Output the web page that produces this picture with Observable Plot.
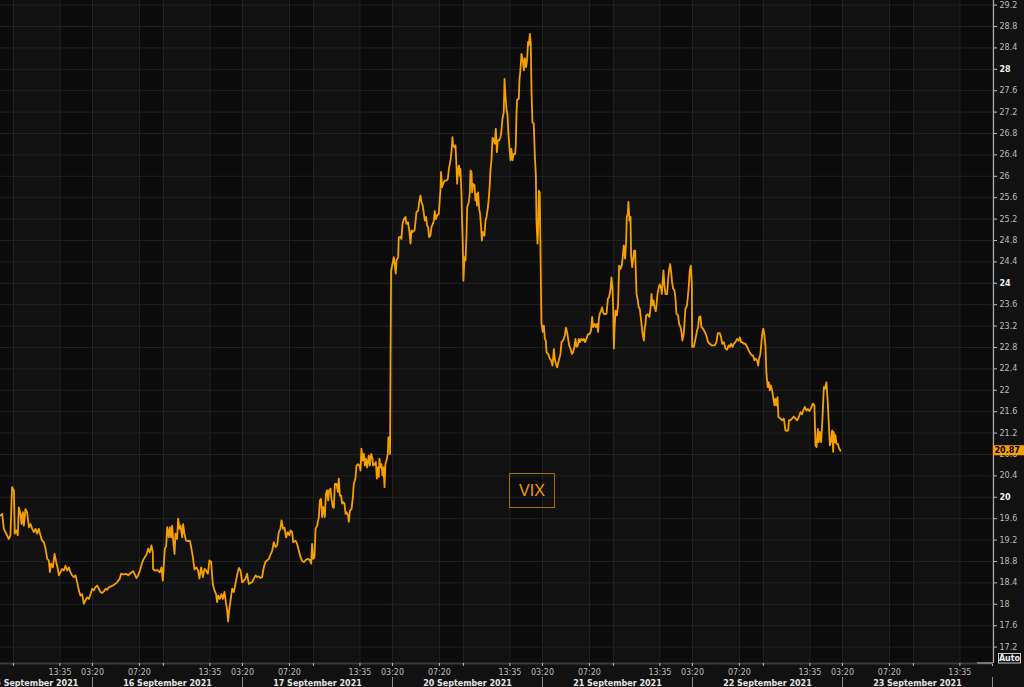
<!DOCTYPE html>
<html><head><meta charset="utf-8">
<script src="https://cdn.jsdelivr.net/npm/d3@7"></script>
<script src="https://cdn.jsdelivr.net/npm/@observablehq/plot@0.6"></script>
<style>
html,body{margin:0;padding:0;background:#101010;}
#wrap{position:relative;width:1024px;height:687px;overflow:hidden;}
#vixlabel{position:absolute;left:509px;top:473px;width:46px;height:35px;border:1px solid #a86f00;color:#f09a00;font:16px "Liberation Sans",Arial,sans-serif;display:flex;align-items:center;justify-content:center;box-sizing:border-box;}
</style></head><body><div id="wrap"><div id="vixlabel">VIX</div></div>
<script>
// Trading-session axis: 1 unit = one session day, starting 03:20 of 15 Sep 2021
const dayNames = ["15 September 2021","16 September 2021","17 September 2021","20 September 2021","21 September 2021","22 September 2021","23 September 2021"];
const dayLabelPos = [0.61, 1.5, 2.5, 3.5, 4.5, 5.5, 6.5];
const sessionTicks = [0, 0.313, 0.473, 0.783];          // fraction of a session day
const sessionTickLabels = ["03:20", "07:20", "", "13:35"];
const yTicks = [17.2,17.6,18,18.4,18.8,19.2,19.6,20,20.4,20.8,21.2,21.6,22,22.4,22.8,23.2,23.6,24,24.4,24.8,25.2,25.6,26,26.4,26.8,27.2,27.6,28,28.4,28.8,29.2];
const boldTicks = [20, 24, 28];
const lastValue = 20.87;

const vixPoints = [
[.387,19.66],[.398,19.69],[.409,19.41],[.442,19.22],[.453,19.29],[.464,20.19],[.476,20.13],[.482,19.32],[.493,19.38],[.502,19.29],[.509,19.81],[.520,19.69],[.527,19.50],[.536,19.72],[.542,19.47],[.553,19.78],[.564,19.72],[.576,19.44],[.587,19.50],[.598,19.41],[.609,19.35],[.620,19.41],[.631,19.32],[.642,19.41],[.653,19.29],[.664,19.19],[.676,19.16],[.687,19.04],[.698,18.85],[.709,18.82],[.716,18.60],[.724,18.76],[.736,18.69],[.747,18.94],[.758,18.79],[.769,18.66],[.776,18.54],[.787,18.60],[.798,18.66],[.809,18.63],[.820,18.72],[.831,18.63],[.842,18.69],[.853,18.60],[.864,18.54],[.876,18.51],[.887,18.54],[.898,18.41],[.909,18.26],[.920,18.16],[.931,18.19],[.942,18.01],[.953,18.07],[.964,18.13],[.976,18.10],[.987,18.19],[.998,18.29],
[1.009,18.26],[1.020,18.32],[1.031,18.35],[1.042,18.29],[1.053,18.23],[1.064,18.21],[1.076,18.24],[1.087,18.29],[1.098,18.27],[1.109,18.32],[1.120,18.33],[1.142,18.36],[1.164,18.41],[1.182,18.48],[1.191,18.57],[1.209,18.56],[1.227,18.57],[1.238,18.54],[1.253,18.58],[1.271,18.62],[1.282,18.56],[1.293,18.49],[1.304,18.54],[1.316,18.63],[1.327,18.74],[1.338,18.83],[1.349,18.88],[1.360,18.93],[1.371,19.04],[1.382,18.97],[1.393,19.10],[1.402,18.97],[1.404,18.66],[1.416,18.63],[1.431,18.64],[1.449,18.60],[1.460,18.69],[1.469,18.44],[1.476,18.76],[1.482,19.04],[1.491,19.08],[1.498,19.44],[1.509,19.25],[1.516,19.44],[1.524,19.25],[1.531,19.47],[1.538,19.19],[1.547,18.94],[1.553,19.32],[1.564,19.22],[1.571,19.60],[1.580,19.41],[1.587,19.47],[1.598,19.25],[1.604,19.50],[1.613,19.32],[1.624,19.19],[1.636,19.18],[1.649,19.19],[1.658,19.07],[1.669,18.88],[1.680,18.65],[1.693,18.69],[1.704,18.63],[1.713,18.48],[1.724,18.69],[1.736,18.51],[1.747,18.66],[1.758,18.63],[1.769,18.57],[1.780,18.82],[1.791,18.79],[1.802,18.38],[1.813,18.26],[1.824,18.19],[1.831,18.04],[1.838,18.16],[1.849,18.10],[1.860,18.19],[1.869,18.10],[1.880,18.23],[1.889,18.04],[1.898,17.88],[1.904,17.68],[1.911,17.88],[1.920,18.07],[1.931,18.29],[1.942,18.23],[1.953,18.38],[1.964,18.54],[1.976,18.68],[1.987,18.63],[1.998,18.41],
[2.009,18.44],[2.020,18.48],[2.031,18.57],[2.042,18.38],[2.053,18.40],[2.064,18.41],[2.076,18.48],[2.087,18.54],[2.098,18.51],[2.109,18.52],[2.120,18.49],[2.131,18.51],[2.142,18.69],[2.153,18.79],[2.164,18.82],[2.176,18.85],[2.187,18.93],[2.198,19.00],[2.209,19.16],[2.220,19.07],[2.231,19.10],[2.242,19.35],[2.253,19.41],[2.260,19.57],[2.271,19.41],[2.280,19.43],[2.291,19.25],[2.302,19.35],[2.313,19.29],[2.320,19.38],[2.331,19.35],[2.338,19.16],[2.353,19.19],[2.364,19.13],[2.376,19.00],[2.387,18.88],
[2.398,18.81],[2.409,18.79],[2.420,18.82],[2.431,18.85],[2.449,18.83],[2.458,18.76],[2.464,19.13],[2.471,18.85],[2.480,18.88],[2.487,19.41],[2.498,19.47],[2.509,19.63],[2.516,19.94],[2.524,19.97],[2.531,19.63],[2.538,19.82],[2.549,19.63],[2.556,20.06],[2.564,20.13],[2.571,19.94],[2.578,20.13],[2.587,20.16],[2.593,19.97],[2.602,19.82],[2.609,19.80],[2.616,20.25],[2.627,20.25],[2.636,20.10],[2.642,20.35],[2.649,20.03],[2.658,20.03],[2.664,19.88],[2.671,19.91],[2.680,19.88],[2.687,19.69],[2.693,19.72],[2.704,19.66],[2.709,19.54],[2.716,19.75],[2.727,19.78],[2.736,20.00],[2.742,20.25],[2.753,20.35],[2.760,20.59],[2.771,20.62],[2.780,20.59],[2.787,20.50],[2.793,20.91],[2.802,20.69],[2.809,20.81],[2.816,20.59],[2.824,20.72],[2.831,20.56],[2.842,20.78],[2.849,20.59],[2.858,20.81],[2.867,20.72],[2.871,20.59],[2.880,20.62],[2.889,20.66],[2.896,20.35],[2.902,20.56],[2.909,20.38],[2.913,20.72],[2.920,20.56],[2.927,20.62],[2.933,20.41],[2.940,20.56],[2.947,20.19],[2.953,20.62],[2.960,20.69],[2.969,20.81],[2.973,21.12],[2.982,21.12],[2.984,20.81],[2.987,22.53],[2.991,24.24],
[3.000,24.36],[3.009,24.49],[3.016,24.33],[3.022,24.18],[3.027,24.43],[3.038,24.49],[3.042,24.86],[3.053,24.87],[3.060,24.83],[3.067,25.11],[3.076,25.20],[3.087,25.24],[3.093,25.11],[3.104,25.14],[3.113,24.96],[3.120,24.74],[3.127,24.99],[3.136,24.96],[3.147,24.99],[3.153,25.14],[3.160,25.33],[3.171,25.36],[3.178,25.52],[3.187,25.64],[3.193,25.52],[3.202,25.45],[3.209,25.30],[3.216,25.17],[3.224,25.24],[3.231,25.08],[3.238,25.05],[3.244,24.86],[3.253,24.89],[3.260,25.05],[3.269,25.11],[3.276,25.17],[3.282,25.35],[3.289,25.20],[3.298,25.27],[3.309,25.30],[3.316,25.61],[3.320,25.73],[3.324,26.08],[3.331,25.80],[3.338,25.86],[3.347,25.92],[3.360,25.92],[3.369,25.95],[3.376,26.14],[3.387,26.30],[3.393,26.45],[3.400,26.73],[3.404,26.58],[3.413,26.54],[3.420,26.58],[3.427,26.17],[3.431,25.86],[3.438,26.14],[3.444,26.20],[3.449,26.01],[3.453,26.14],[3.460,25.67],[3.464,25.17],[3.469,24.68],[3.473,24.05],[3.480,24.49],[3.487,24.43],[3.493,24.86],[3.498,25.42],[3.509,25.52],[3.516,25.70],[3.520,26.11],[3.527,26.08],[3.531,25.70],[3.538,25.86],[3.547,25.83],[3.553,25.55],[3.560,25.67],[3.564,25.45],[3.571,25.70],[3.578,25.39],[3.584,25.30],[3.591,25.05],[3.596,24.80],[3.602,24.96],[3.613,24.89],[3.620,25.17],[3.627,25.24],[3.636,25.42],[3.642,25.58],[3.649,25.86],[3.653,26.11],[3.660,26.30],[3.667,26.72],[3.676,26.67],[3.682,26.61],[3.689,26.89],[3.696,26.45],[3.702,26.67],[3.711,26.67],[3.720,26.73],[3.727,26.86],[3.733,27.07],[3.742,27.20],[3.747,27.82],[3.753,27.51],[3.760,27.26],[3.767,27.14],[3.773,26.79],[3.780,26.54],[3.787,26.30],[3.793,26.51],[3.800,26.30],[3.809,26.42],[3.818,26.42],[3.822,26.58],[3.827,27.20],[3.831,27.43],[3.842,27.45],[3.847,27.82],[3.853,27.98],[3.860,28.29],[3.869,28.16],[3.876,27.98],[3.882,28.21],[3.891,28.04],[3.898,28.20],[3.904,28.51],[3.909,28.45],[3.916,28.66],[3.922,28.48],[3.927,27.57],[3.933,27.01],[3.942,26.98],[3.949,26.39],[3.956,26.01],[3.960,25.17],[3.967,24.74],[3.971,24.99],[3.976,25.73],[3.982,25.70],[3.987,24.55],[3.993,23.27],
[4.002,23.09],[4.009,23.21],[4.016,22.96],[4.022,22.93],[4.027,22.71],[4.038,22.68],[4.049,22.59],[4.058,22.56],[4.067,22.46],[4.076,22.77],[4.082,22.59],[4.089,22.50],[4.098,22.43],[4.109,22.56],[4.120,22.68],[4.127,22.90],[4.136,22.93],[4.142,22.96],[4.149,23.02],[4.156,23.17],[4.164,23.09],[4.171,22.96],[4.178,22.84],[4.187,22.78],[4.196,22.68],[4.204,22.71],[4.213,22.81],[4.220,22.96],[4.227,22.81],[4.236,22.84],[4.242,22.96],[4.249,22.90],[4.258,22.96],[4.267,22.93],[4.276,22.96],[4.284,22.90],[4.293,22.96],[4.302,23.04],[4.316,23.06],[4.324,23.12],[4.331,23.37],[4.338,23.18],[4.347,23.24],[4.356,23.18],[4.364,23.24],[4.371,23.09],[4.376,23.34],[4.382,23.43],[4.391,23.49],[4.398,23.55],[4.404,23.46],[4.413,23.42],[4.427,23.43],[4.436,23.71],[4.444,23.74],[4.453,23.87],[4.460,24.11],[4.467,23.90],[4.471,23.59],[4.476,22.78],[4.480,23.12],[4.487,23.49],[4.496,23.40],[4.504,23.59],[4.511,24.33],[4.520,24.27],[4.529,24.33],[4.536,24.52],[4.542,24.71],[4.551,24.46],[4.558,24.80],[4.562,25.24],[4.569,25.30],[4.573,25.52],[4.580,25.17],[4.587,25.24],[4.591,24.52],[4.598,24.30],[4.604,24.43],[4.611,24.61],[4.618,24.61],[4.622,24.24],[4.627,23.80],[4.636,23.68],[4.642,23.55],[4.649,23.52],[4.658,23.30],[4.667,23.06],[4.676,22.93],[4.682,23.18],[4.687,23.24],[4.691,23.40],[4.702,23.42],[4.713,23.37],[4.720,23.52],[4.727,23.80],[4.733,23.59],[4.740,23.68],[4.747,23.55],[4.756,23.48],[4.760,23.59],[4.767,23.80],[4.776,23.93],[4.782,23.98],[4.791,23.90],[4.796,23.80],[4.802,24.08],[4.807,24.24],[4.813,23.96],[4.820,23.80],[4.831,23.80],[4.838,24.08],[4.844,24.24],[4.851,24.36],[4.858,24.21],[4.864,24.02],[4.871,23.90],[4.880,23.87],[4.887,23.71],[4.893,23.43],[4.904,23.40],[4.911,23.24],[4.920,23.18],[4.927,23.09],[4.933,22.93],[4.942,23.06],[4.953,23.52],[4.964,23.59],[4.976,23.96],[4.982,24.24],[4.989,24.33],[4.996,23.99],[4.998,22.81],
[5.009,22.81],[5.020,22.96],[5.031,23.12],[5.038,23.18],[5.044,23.37],[5.053,23.38],[5.060,23.18],[5.071,23.15],[5.082,23.09],[5.093,23.02],[5.104,22.90],[5.116,22.87],[5.127,22.84],[5.138,22.84],[5.149,22.84],[5.160,22.90],[5.169,23.07],[5.182,23.07],[5.191,22.99],[5.198,22.87],[5.209,22.90],[5.220,22.78],[5.231,22.76],[5.242,22.84],[5.249,22.81],[5.258,22.87],[5.267,22.81],[5.276,22.87],[5.287,22.90],[5.298,22.96],[5.309,22.93],[5.316,22.99],[5.324,22.90],[5.333,22.90],[5.342,22.87],[5.353,22.87],[5.364,22.81],[5.376,22.74],[5.387,22.68],[5.398,22.65],[5.404,22.65],[5.413,22.56],[5.422,22.59],[5.431,22.56],[5.438,22.46],[5.444,22.59],[5.453,22.68],[5.460,22.90],[5.467,23.09],[5.473,23.15],[5.480,23.02],[5.487,22.81],[5.493,22.31],[5.502,22.06],[5.509,22.15],[5.516,22.00],[5.522,22.09],[5.531,22.00],[5.538,21.87],[5.547,21.72],[5.553,21.84],[5.560,21.72],[5.567,21.87],[5.573,21.50],[5.587,21.47],[5.598,21.44],[5.609,21.47],[5.620,21.25],[5.631,21.24],[5.638,21.25],[5.644,21.44],[5.653,21.44],[5.664,21.47],[5.676,21.51],[5.687,21.47],[5.698,21.44],[5.709,21.50],[5.720,21.59],[5.731,21.55],[5.738,21.62],[5.749,21.69],[5.760,21.62],[5.769,21.65],[5.780,21.61],[5.791,21.67],[5.802,21.75],[5.813,21.72],[5.820,20.97],[5.827,20.94],[5.836,21.28],[5.842,21.03],[5.849,21.22],[5.858,21.03],[5.867,21.50],[5.876,22.06],[5.884,22.03],[5.893,22.15],[5.902,21.78],[5.909,21.37],[5.916,20.97],[5.924,21.06],[5.931,21.25],[5.938,20.85],[5.942,21.22],[5.949,21.03],[5.953,21.16],[5.960,21.00],[5.969,21.00],[5.978,20.91],[5.987,20.87]
];

const xDomain = [0.3867, 7.007];
const yDomain = [16.893, 29.286];
const fmt = d => String(+d.toFixed(1));

const xTicks = [], xTickLabel = new Map();
for (let day = 0; day <= 7; day++) {
  sessionTicks.forEach((f, i) => {
    const p = +(day + f).toFixed(3);
    if (p >= xDomain[0] && p <= xDomain[1]) { xTicks.push(p); xTickLabel.set(p, day < 7 ? sessionTickLabels[i] : ""); }
  });
}
const bands = [];
for (let day = 0; day < 7; day++) {
  bands.push({x1: day + sessionTicks[1], x2: day + sessionTicks[2]});
  bands.push({x1: day + sessionTicks[3], x2: day + 1});
}
const dayLabels = dayNames.map((n, i) => ({label: n, pos: dayLabelPos[i]}));

const plot = Plot.plot({
  width: 1024, height: 687,
  marginLeft: 0, marginRight: 31, marginTop: 0, marginBottom: 24,
  x: {domain: xDomain, axis: null},
  y: {domain: yDomain, axis: null},
  style: {background: "#111111", color: "#bdbdbd", fontFamily: "'DejaVu Sans', sans-serif", fontSize: "8px", overflow: "hidden"},
  marks: [
    Plot.rect(bands, {x1: "x1", x2: "x2", fill: "#0b0b0b", clip: true}),
    Plot.ruleY(yTicks, {stroke: "#222222", strokeWidth: 1}),
    Plot.ruleX(xTicks, {stroke: "#222222", strokeWidth: 1}),
    Plot.line(vixPoints, {x: d => d[0], y: d => d[1], stroke: "#f5a000", strokeWidth: 1.8, curve: "linear"}),
    Plot.ruleY([yDomain[0]], {stroke: "#3c3c3c", strokeWidth: 2}),
    Plot.ruleX([xDomain[1]], {stroke: "#a8a8a8", strokeWidth: 1.2}),
    Plot.axisX({ticks: xTicks, tickFormat: d => xTickLabel.get(d), tickSize: 3, tickPadding: 3, fontSize: 8, color: "#bdbdbd"}),
    Plot.axisY({anchor: "right", ticks: yTicks, tickSize: 3, tickPadding: 3, fontSize: 8, color: "#bdbdbd",
      tickFormat: d => boldTicks.includes(d) ? "" : fmt(d)}),
    Plot.text(boldTicks, {y: d => d, text: d => fmt(d), frameAnchor: "right", dx: 6, textAnchor: "start", fontWeight: "bold", fill: "#f0f0f0", fontSize: 8}),
    Plot.text(dayLabels, {x: "pos", text: "label", frameAnchor: "bottom", dy: 19.5, lineAnchor: "middle", fontWeight: "bold", fill: "#e6e6e6", fontSize: 8})
  ]
});
document.getElementById("wrap").prepend(plot);

// session separators, last-value badge and the Auto button
const svg = d3.select(plot);
const sx = plot.scale("x"), sy = plot.scale("y");
for (let day = 1; day <= 7; day++) {
  const x = Math.round(sx.apply(day)) + 0.5;
  svg.append("line").attr("x1", x).attr("x2", x).attr("y1", 677).attr("y2", 687).attr("stroke", "#8a8a8a");
}
const yl = sy.apply(lastValue);
svg.append("rect").attr("x", 993).attr("y", yl - 5).attr("width", 31).attr("height", 10).attr("fill", "#f5a000");
svg.append("text").attr("x", 994.5).attr("y", yl).attr("dy", "0.34em").attr("text-anchor", "start").attr("font-size", 8).attr("font-weight", "bold").attr("fill", "#000").text(lastValue.toFixed(2));
svg.append("rect").attr("x", 998.5).attr("y", 653.5).attr("width", 22).attr("height", 9.5).attr("fill", "#111").attr("stroke", "#c8c8c8");
svg.append("text").attr("x", 1009.5).attr("y", 658.5).attr("dy", "0.34em").attr("text-anchor", "middle").attr("font-size", 8).attr("font-weight", "bold").attr("fill", "#eee").text("Auto");
svg.append("line").attr("x1", 977).attr("x2", 993).attr("y1", 663).attr("y2", 663).attr("stroke", "#777").attr("stroke-width", 2);
</script>
</body></html>
